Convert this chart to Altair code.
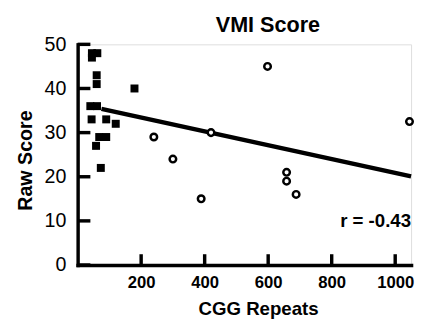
import altair as alt
import pandas as pd

# Premutation (filled squares)
sq_x = [45, 62, 45, 60, 60, 40, 61, 44, 90, 120, 68, 90, 58, 73, 179]
sq_y = [48, 48, 47, 43, 41, 36, 36, 33, 33, 32, 29, 29, 27, 22, 40]

# Full mutation (open circles)
ci_x = [240, 300, 389, 420, 598, 658, 658, 688, 1045]
ci_y = [29, 24, 15, 30, 45, 21, 19, 16, 32.5]

# Regression line
line_x = [75, 1050]
line_y = [35.4, 20.1]

x_ticks = [200, 400, 600, 800, 1000]
y_ticks = [0, 10, 20, 30, 40, 50]

annot_x = [1050]
annot_y = [8.7]
annot_text = ["r = -0.43"]

title_text = ["VMI Score"]

FONT = "Liberation Sans"
W, H = 340, 225

sq = pd.DataFrame({"x": sq_x, "y": sq_y})
ci = pd.DataFrame({"x": ci_x, "y": ci_y})
ln = pd.DataFrame({"x": line_x, "y": line_y})
xt = pd.DataFrame({"x": x_ticks})
yt = pd.DataFrame({"y": y_ticks})
an = pd.DataFrame({"x": annot_x, "y": annot_y, "t": annot_text})
tt = pd.DataFrame({"t": title_text})

xscale = alt.Scale(domain=[0, 1050], nice=False, zero=False)
yscale = alt.Scale(domain=[0, 50], nice=False)

xaxis = alt.Axis(
    title="CGG Repeats", values=x_ticks, ticks=False, grid=False, format="d",
    labelFont=FONT, labelFontSize=17, labelFontWeight="bold", labelColor="black",
    labelBaseline="alphabetic", labelPadding=23,
    domainColor="black", domainWidth=3.5, domainCap="square",
    titleFont=FONT, titleFontSize=19, titleFontWeight="bold", titleColor="black",
    titleX=184, titleY=50, titleBaseline="alphabetic", titleAlign="center",
)
yaxis = alt.Axis(
    title="Raw Score", values=y_ticks, ticks=False, grid=False,
    labelFont=FONT, labelFontSize=20, labelFontWeight="normal", labelColor="black",
    labelPadding=12, labelBaseline="middle",
    domainColor="black", domainWidth=3.5, domainCap="square",
    titleFont=FONT, titleFontSize=20, titleFontWeight="bold", titleColor="black",
    titleX=-47, titleY=118, titleAngle=-90, titleBaseline="alphabetic", titleAlign="center",
)

base_x = alt.X("x:Q", scale=xscale, axis=xaxis)
base_y = alt.Y("y:Q", scale=yscale, axis=yaxis)

line = alt.Chart(ln).mark_line(color="black", strokeWidth=4.5).encode(x=base_x, y=base_y)

squares = alt.Chart(sq).mark_square(color="black", size=66, opacity=1).encode(
    x=alt.X("x:Q", scale=xscale), y=alt.Y("y:Q", scale=yscale))

circles = alt.Chart(ci).mark_point(
    shape="circle", fill="white", stroke="black", strokeWidth=2.5, size=45, opacity=1, filled=True
).encode(x=alt.X("x:Q", scale=xscale), y=alt.Y("y:Q", scale=yscale))

xticks = alt.Chart(xt).mark_rule(color="black", strokeWidth=3.5).encode(
    x=alt.X("x:Q", scale=xscale), y=alt.value(H), y2=alt.value(H - 11))

yticks = alt.Chart(yt).mark_rule(color="black", strokeWidth=3.5).encode(
    y=alt.Y("y:Q", scale=yscale), x=alt.value(0), x2=alt.value(13))

annot = alt.Chart(an).mark_text(
    font=FONT, fontSize=19, fontWeight="bold", color="black", align="right", baseline="alphabetic"
).encode(x=alt.X("x:Q", scale=xscale), y=alt.Y("y:Q", scale=yscale), text="t:N")

title = alt.Chart(tt).mark_text(
    font=FONT, fontSize=22, fontWeight="bold", color="black", align="center", baseline="alphabetic"
).encode(x=alt.value(194), y=alt.value(-13), text="t:N")

chart = alt.layer(line, squares, circles, xticks, yticks, annot, title).properties(
    width=W, height=H,
    autosize=alt.AutoSizeParams(type="none"),
    padding={"left": 71, "top": 34, "right": 4, "bottom": 53},
).configure_view(stroke=None).configure(background="white")

chart.save("out.html", embed_options={"renderer": "svg", "actions": False})
